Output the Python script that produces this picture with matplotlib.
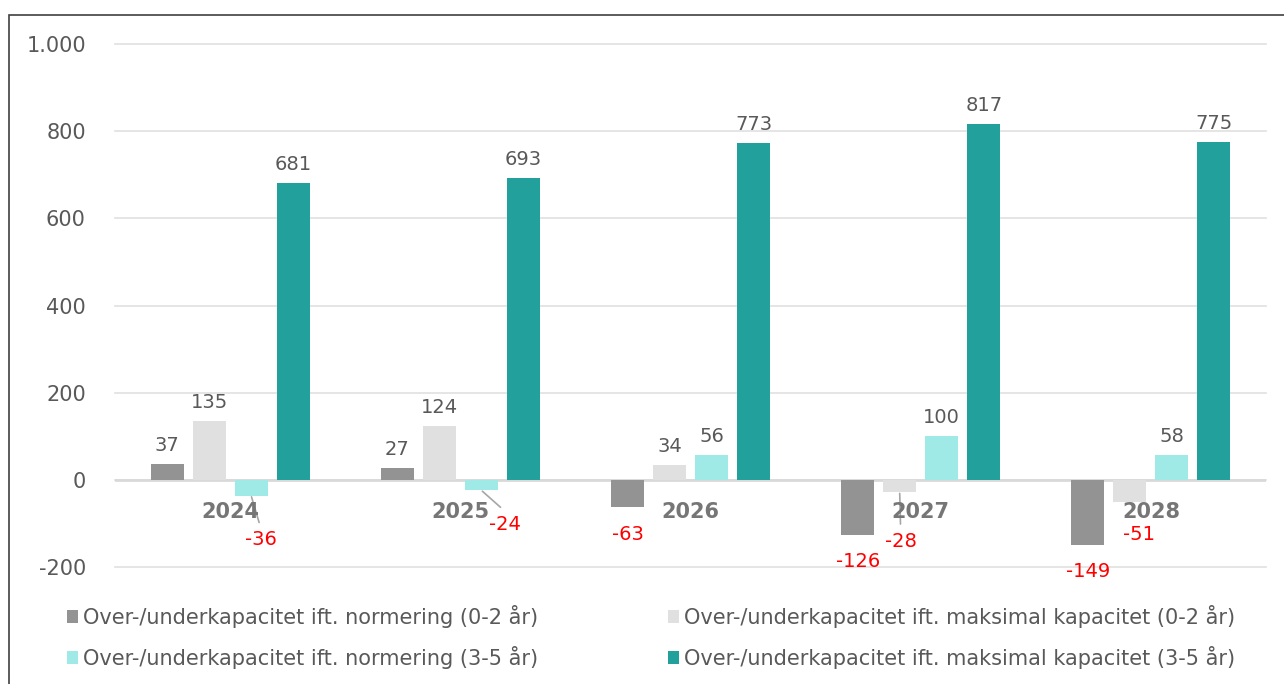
import numpy as np
import matplotlib
matplotlib.use('Agg')
import matplotlib.pyplot as plt
from matplotlib.patches import Rectangle
from matplotlib.ticker import FuncFormatter

years = ['2024', '2025', '2026', '2027', '2028']
series_names = [
  'Over-/underkapacitet ift. normering (0-2 år)',
  'Over-/underkapacitet ift. maksimal kapacitet (0-2 år)',
  'Over-/underkapacitet ift. normering (3-5 år)',
  'Over-/underkapacitet ift. maksimal kapacitet (3-5 år)',
]
norm_0_2 = [37, 27, -63, -126, -149]
maks_0_2 = [135, 124, 34, -28, -51]
norm_3_5 = [-36, -24, 56, 100, 58]
maks_3_5 = [681, 693, 773, 817, 775]
series = [norm_0_2, maks_0_2, norm_3_5, maks_3_5]

colors = ['#939393', '#e0e0e0', '#9feae6', '#22a09b']
text_gray = '#595959'

# pixel offsets for the negative labels (series index, year index) -> (dx, dy, leader line)
neg_offsets = {
  (2, 0): (10, -44, True),
  (2, 1): (24, -34, True),
  (1, 3): (1, -49, True),
  (1, 4): (9, -32, False),
}

plt.rcParams['font.family'] = ['DejaVu Sans']

fig = plt.figure(figsize=(12.84, 6.84), dpi=100)
ax = fig.add_axes([115 / 1284, 1 - 567 / 684, 1151 / 1284, (567 - 44) / 684])

x = np.arange(len(years))
width = 0.143
step = 0.1826

bars = []
for i, (vals, col, name) in enumerate(zip(series, colors, series_names)):
  xs = x + (i - 1.5) * step
  bars.append(ax.bar(xs, vals, width, color=col, label=name, zorder=3))
  for xi, v, j in zip(xs, vals, range(len(vals))):
    if v >= 0:
      ax.annotate(str(v), (xi, v), xytext=(0, 9), textcoords='offset pixels',
                  ha='center', va='bottom', fontsize=14, color=text_gray)
    else:
      dx, dy, leader = neg_offsets.get((i, j), (0, -27, False))
      ax.annotate(str(v), (xi, v), xytext=(dx, dy), textcoords='offset pixels',
                  ha='center', va='center', fontsize=14, color='red', zorder=6)
      if leader:
        ax.annotate('', (xi, v), xytext=(dx * 0.8, dy + 17), textcoords='offset pixels',
                    arrowprops=dict(arrowstyle='-', color='#a6a6a6', lw=1.2,
                                    shrinkA=0, shrinkB=1))

for xi, yr in zip(x, years):
  ax.annotate(yr, (xi, 0), xytext=(0, -32), textcoords='offset pixels',
              ha='center', va='center', fontsize=15, fontweight='bold',
              color='#767676', zorder=5)

ax.set_xlim(-0.5, len(years) - 0.5)
ax.set_ylim(-200, 1000)
ax.set_yticks([-200, 0, 200, 400, 600, 800, 1000])
ax.yaxis.set_major_formatter(FuncFormatter(lambda v, p: f'{int(v):,}'.replace(',', '.')))
ax.set_xticks([])
ax.tick_params(axis='y', length=0, pad=21, labelsize=15, labelcolor=text_gray)
ax.grid(axis='y', color='#e0e0e0', lw=1.2, zorder=0)
for gl in ax.get_ygridlines():
  gl.set_clip_on(False)
ax.axhline(0, color='#d9d9d9', lw=2, zorder=2)
for s in ax.spines.values():
  s.set_visible(False)

# legend filled row by row
order = [0, 2, 1, 3]
fig.legend([bars[k] for k in order], [series_names[k] for k in order],
           loc='upper left', bbox_to_anchor=(67 / 1284, 1 - 605 / 684), ncol=2,
           frameon=False, fontsize=15, labelcolor=text_gray, borderpad=0,
           borderaxespad=0, handlelength=0.55, handleheight=0.55,
           handletextpad=0.2, columnspacing=6.25, labelspacing=0.85)

fig.patches.append(Rectangle((9 / 1284, -0.05), 1.1, 1 - 15 / 684 + 0.05,
                             transform=fig.transFigure, fill=False,
                             edgecolor='#404040', lw=1.2))

fig.savefig('out.png', dpi=100)
